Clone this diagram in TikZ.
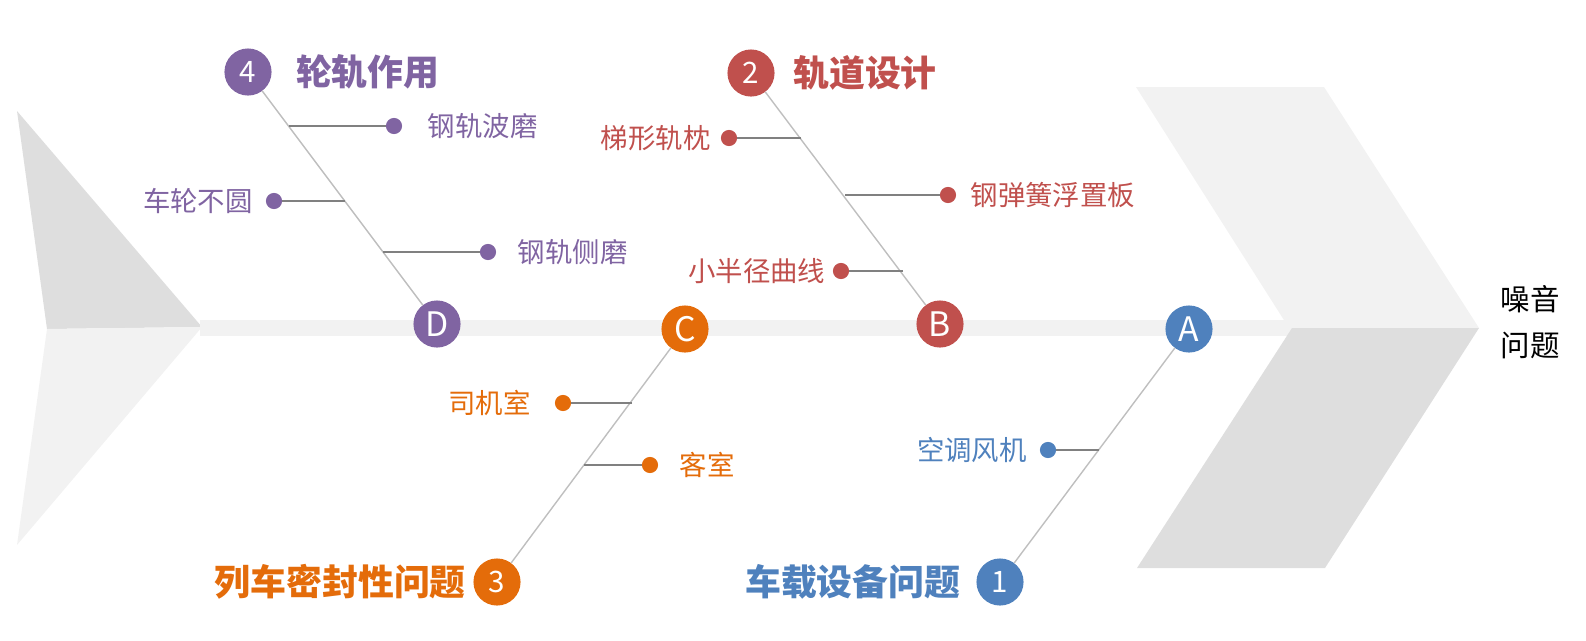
\documentclass[tikz,border=0pt]{standalone}
\usepackage{fontspec}
\setmainfont{Noto Sans CJK SC}
\usetikzlibrary{positioning}
\definecolor{lilac}{HTML}{8064A2}
\definecolor{brick}{HTML}{C0504D}
\definecolor{amber}{HTML}{E46C0A}
\definecolor{steel}{HTML}{4F81BD}
\definecolor{pale}{HTML}{F2F2F2}
\definecolor{mist}{HTML}{DEDEDE}
\tikzset{
  tag/.style={circle, fill=#1, text=white, minimum size=33.5pt, inner sep=0pt, font=\fontsize{24}{24}\selectfont},
  num/.style={tag=#1, font=\fontsize{21}{21}\selectfont},
  head/.style={text=#1, inner sep=0pt, font=\fontsize{25.5}{25.5}\selectfont\bfseries},
  leaf/.style={circle, fill=#1, minimum size=11.5pt, inner sep=0pt},
  item/.style={text=#1, inner sep=0pt, font=\fontsize{19.5}{19.5}\selectfont},
  bone/.style={draw=gray!50, line width=1pt},
  twig/.style={draw=gray, line width=1.4pt}
}

\begin{document}
\begin{tikzpicture}[x=0.025cm, y=-0.025cm]
    \useasboundingbox (0,0) rectangle (1586,640);
    % tail, spine and head
    \fill[mist] (17,111) -- (202,327) -- (47,329) -- cycle;
    \fill[pale] (47,329) -- (202,327) -- (17,545) -- cycle;
    \fill[pale] (200,320) rectangle (1292,336);
    \fill[pale] (1136,87) -- (1324,87) -- (1479,328) -- (1289,328) -- cycle;
    \fill[mist] (1292,328) -- (1479,328) -- (1325,568) -- (1137,568) -- cycle;
    \node[align=center, inner sep=0pt, font=\fontsize{21}{32.7}\selectfont] (goal) at (1530,322) {噪音\\问题};

    % main causes
    \node[tag=lilac] (D) at (437,324) {D};
    \node[tag=amber] (C) at (685,329) {C};
    \node[tag=brick] (B) at (940,324) {B};
    \node[tag=steel] (A) at (1189,329) {A};
    \node[num=lilac] (n4) at (248,72) {4};
    \node[num=brick] (n2) at (751,73) {2};
    \node[num=amber] (n3) at (497,582) {3};
    \node[num=steel] (n1) at (1000,582) {1};
    \draw[bone] (n4) -- (D);
    \draw[bone] (n2) -- (B);
    \draw[bone] (n3) -- (C);
    \draw[bone] (n1) -- (A);
    \node[head=lilac, right=17pt of n4] (t4) {轮轨作用};
    \node[head=brick, right=13pt of n2] (t2) {轨道设计};
    \node[head=amber, left=5pt of n3] (t3) {列车密封性问题};
    \node[head=steel, left=11pt of n1] (t1) {车载设备问题};

    % wheel-rail
    \node[leaf=lilac] (p41) at (394,126) {};
    \node[item=lilac, right=18pt of p41] (q41) {钢轨波磨};
    \coordinate (b41) at (289,126);
    \draw[twig] (b41) -- (p41);
    \node[leaf=lilac] (p42) at (274,201) {};
    \node[item=lilac, left=9pt of p42] (q42) {车轮不圆};
    \coordinate (b42) at (345,201);
    \draw[twig] (b42) -- (p42);
    \node[leaf=lilac] (p43) at (488,252) {};
    \node[item=lilac, right=15pt of p43] (q43) {钢轨侧磨};
    \coordinate (b43) at (383,252);
    \draw[twig] (b43) -- (p43);

    % track design
    \node[leaf=brick] (p21) at (729,138) {};
    \node[item=brick, left=7pt of p21] (q21) {梯形轨枕};
    \coordinate (b21) at (801,138);
    \draw[twig] (b21) -- (p21);
    \node[leaf=brick] (p22) at (948,195) {};
    \node[item=brick, right=10pt of p22] (q22) {钢弹簧浮置板};
    \coordinate (b22) at (845,195);
    \draw[twig] (b22) -- (p22);
    \node[leaf=brick] (p23) at (841,271) {};
    \node[item=brick, left=5pt of p23] (q23) {小半径曲线};
    \coordinate (b23) at (903,271);
    \draw[twig] (b23) -- (p23);

    % sealing
    \node[leaf=amber] (p31) at (563,403) {};
    \node[item=amber, left=17pt of p31] (q31) {司机室};
    \coordinate (b31) at (632,403);
    \draw[twig] (b31) -- (p31);
    \node[leaf=amber] (p32) at (650,465) {};
    \node[item=amber, right=15pt of p32] (q32) {客室};
    \coordinate (b32) at (584,465);
    \draw[twig] (b32) -- (p32);

    % on-board equipment
    \node[leaf=steel] (p11) at (1048,450) {};
    \node[item=steel, left=9pt of p11] (q11) {空调风机};
    \coordinate (b11) at (1099,450);
    \draw[twig] (b11) -- (p11);
\end{tikzpicture}
\end{document}
